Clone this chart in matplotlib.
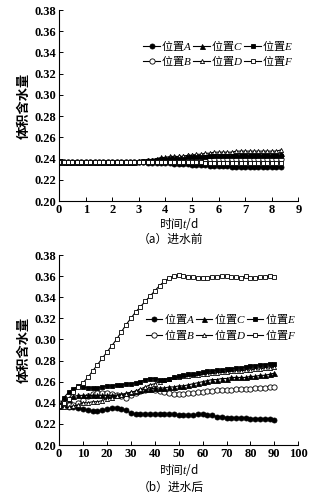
import numpy as np
import matplotlib
matplotlib.use('Agg')
import matplotlib.pyplot as plt

plt.rcParams['font.family'] = ['Liberation Serif', 'Noto Sans CJK SC']
plt.rcParams['mathtext.fontset'] = 'custom'
plt.rcParams['mathtext.rm'] = 'Noto Sans CJK SC'
plt.rcParams['mathtext.it'] = 'Liberation Serif:italic'
plt.rcParams['mathtext.bf'] = 'Liberation Serif:bold'

# (a) before water inflow, t in days, values in 1/1000
t_a = np.arange(51) / 6.0
pre_A = [237]*18 + [237, 237, 236, 236, 236, 236,
                    236, 236, 235, 235, 235, 235, 234, 234, 234, 234, 233, 233,
                    233, 233, 233, 232, 232, 232, 232, 232, 232, 232, 232, 232, 232, 232, 232]
pre_B = [237]*18 + [237, 237, 238, 238, 238, 238,
                    238, 239, 239, 239, 239, 239, 240, 240, 240, 240, 240, 240] + [240]*15
pre_C = [237]*18 + [238, 238, 239, 239, 240, 241,
                    241, 242, 242, 242, 242, 243, 243, 243, 243, 243, 243, 244,
                    244, 244, 244, 244, 244, 245, 245, 245, 245, 245, 245, 245, 245, 245, 245]
pre_D = [237]*18 + [237, 238, 238, 239, 239, 240,
                    240, 241, 241, 242, 242, 243, 243, 244, 244, 245, 245, 246,
                    246, 246, 246, 246, 247, 247, 247, 247, 247, 247, 247, 247, 247, 247, 248]
pre_E = [237]*18 + [237, 238, 238, 238, 239, 239,
                    239, 240, 240, 240, 240, 241, 241, 241, 241, 241, 242, 242] + [242]*15
pre_F = [237]*18 + [237]*6 + [237, 237, 237, 237, 237, 237, 237, 237, 237, 236, 236, 236] + [236]*15

# (b) after water inflow
t_b = np.arange(0, 91, 2)
post_A = [237, 237, 236, 236, 235, 234, 233, 232, 232, 233,
          234, 235, 235, 234, 233, 230, 229, 229, 229, 229,
          229, 229, 229, 229, 229, 228, 228, 228, 228, 229,
          229, 228, 228, 227, 227, 226, 226, 226, 226, 226,
          225, 225, 225, 225, 225, 224]
post_B = [240, 239, 238, 238, 240, 243, 246, 248, 249, 249,
          249, 248, 247, 246, 245, 247, 249, 251, 252, 253,
          252, 251, 250, 249, 248, 248, 248, 249, 249, 250,
          250, 251, 251, 252, 252, 252, 252, 253, 253, 253,
          253, 254, 254, 254, 255, 255]
post_C = [237, 241, 244, 246, 247, 247, 247, 247, 247, 247,
          247, 247, 247, 248, 249, 250, 251, 252, 253, 253,
          254, 254, 254, 255, 255, 256, 256, 257, 258, 259,
          260, 261, 262, 262, 263, 263, 264, 264, 264, 264,
          265, 265, 266, 266, 267, 268]
post_D = [237, 236, 236, 237, 238, 240, 240, 241, 241, 242,
          244, 245, 246, 247, 248, 250, 251, 253, 255, 257,
          258, 260, 262, 263, 264, 264, 265, 265, 266, 266,
          267, 267, 268, 268, 269, 269, 270, 270, 270, 271,
          271, 272, 272, 273, 273, 274]
post_E = [237, 245, 250, 253, 256, 255, 254, 254, 254, 255,
          256, 256, 257, 257, 258, 258, 259, 260, 262, 263,
          263, 262, 262, 263, 264, 265, 266, 267, 267, 268,
          269, 270, 270, 271, 271, 272, 272, 273, 273, 274,
          275, 275, 276, 276, 277, 277]
post_F = [237, 240, 244, 250, 255, 259, 264, 270, 276, 282,
          288, 294, 300, 307, 314, 320, 326, 331, 336, 341,
          346, 351, 355, 358, 360, 361, 360, 359, 359, 358,
          358, 358, 359, 359, 360, 360, 359, 359, 358, 360,
          358, 358, 359, 359, 360, 359]

names = ['A', 'B', 'C', 'D', 'E', 'F']
styles = {
    'A': dict(marker='o', mfc='black', ms=3.6),
    'B': dict(marker='o', mfc='white', ms=3.8),
    'C': dict(marker='^', mfc='black', ms=3.6),
    'D': dict(marker='^', mfc='white', ms=3.0),
    'E': dict(marker='s', mfc='black', ms=3.3),
    'F': dict(marker='s', mfc='white', ms=3.3),
}
cjk = 'Noto Sans CJK SC'

fig = plt.figure(figsize=(3.34, 5.0), dpi=100)
ax1 = fig.add_axes([0.177, 0.598, 0.716, 0.382])
ax2 = fig.add_axes([0.177, 0.110, 0.716, 0.380])

pre = [pre_A, pre_B, pre_C, pre_D, pre_E, pre_F]
post = [post_A, post_B, post_C, post_D, post_E, post_F]

for ax, t, data in [(ax1, t_a, pre), (ax2, t_b, post)]:
    for n, vals in zip(names, data):
        ax.plot(t, np.array(vals) / 1000.0, color='black', lw=0.8, mec='black',
                mew=0.6, label='位置$%s$' % n, **styles[n])
    ax.set_ylim(0.20, 0.38)
    ax.set_yticks(np.arange(0.20, 0.381, 0.02))
    ax.yaxis.set_major_formatter(matplotlib.ticker.FormatStrFormatter('%.2f'))
    for s in ['top', 'right']:
        ax.spines[s].set_visible(False)
    ax.tick_params(direction='in', length=3, width=0.7, labelsize=9, pad=2)
    ax.set_ylabel('体积含水量', fontsize=9.5, fontweight='bold', labelpad=3,
                  family=cjk)
    ax.legend(ncol=3, frameon=False, prop=dict(family=cjk, size=8),
              handlelength=1.5, handletextpad=0.1, columnspacing=0.1,
              labelspacing=0.05, borderpad=0.2, loc='upper left',
              bbox_to_anchor=(0.32, 0.895))

ax1.set_xlim(0, 9)
ax1.set_xticks(range(0, 10))
ax2.set_xlim(0, 100)
ax2.set_xticks(range(0, 101, 10))
ax2.legend_.set_bbox_to_anchor((0.33, 0.745))

for ax in (ax1, ax2):
    for lab in ax.get_xticklabels() + ax.get_yticklabels():
        lab.set_fontweight('bold')

fig.text(0.535, 0.553, '时间$t$/d', ha='center', va='center', fontsize=8.5, family=cjk)
fig.text(0.51, 0.521, '（a）进水前', ha='center', va='center', fontsize=8.5, family=cjk)
fig.text(0.535, 0.060, '时间$t$/d', ha='center', va='center', fontsize=8.5, family=cjk)
fig.text(0.51, 0.026, '（b）进水后', ha='center', va='center', fontsize=8.5, family=cjk)

fig.savefig('out.png', dpi=100)
